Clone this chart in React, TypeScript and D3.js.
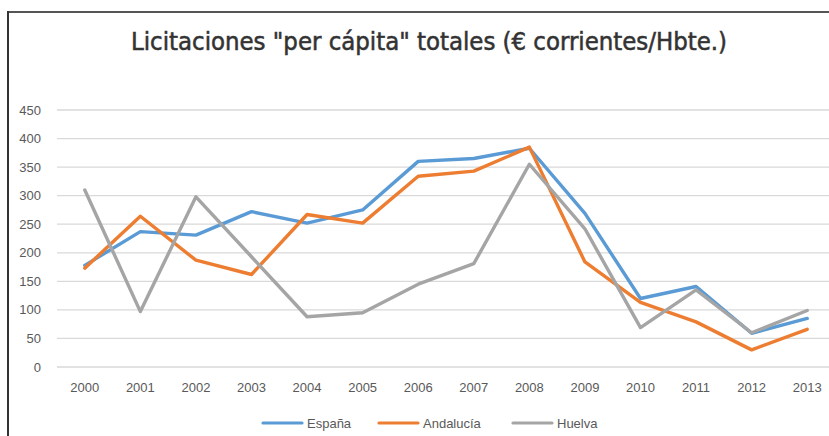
import React from "react";
import * as d3 from "d3";

const years = ["2000","2001","2002","2003","2004","2005","2006","2007","2008","2009","2010","2011","2012","2013"];
const espana = [178, 237, 231, 272, 252, 275, 360, 365, 383, 269, 120, 141, 59, 85];
const andalucia = [173, 264, 187, 162, 267, 252, 334, 343, 385, 184, 113, 79, 30, 66];
const huelva = [310, 97, 298, 193, 88, 95, 145, 181, 355, 242, 69, 135, 60, 99];
const yTicks = [0, 50, 100, 150, 200, 250, 300, 350, 400, 450];
const seriesNames = ["España", "Andalucía", "Huelva"];
const colors = ["#5B9BD5", "#ED7D31", "#A5A5A5"];
const title = 'Licitaciones "per cápita" totales (€ corrientes/Hbte.)';

const W = 829, H = 436;
const plotLeft = 57, plotRight = 835, plotTop = 110, plotBottom = 367;

export default function App() {
  const x = d3.scalePoint<string>().domain(years).range([plotLeft, plotRight]).padding(0.5);
  const y = d3.scaleLinear().domain([0, 450]).range([plotBottom, plotTop]);
  const line = d3.line<number>().x((_, i) => x(years[i]) as number).y(d => y(d));
  const all = [espana, andalucia, huelva];
  const legendItems = [
    { lx: 263, tx: 307 },
    { lx: 379, tx: 423 },
    { lx: 513, tx: 557 },
  ];
  const font = "'Liberation Sans', Arial, sans-serif";
  const titleFont = "'DejaVu Sans Condensed', 'DejaVu Sans', sans-serif";
  return (
    <svg width={W} height={H} style={{ position: "absolute", left: 0, top: 0, background: "#fff" }}>
      <rect x={0} y={0} width={W} height={H} fill="#fff" />
      <line x1={8} x2={W} y1={12} y2={12} stroke="#555" strokeWidth={2} />
      <line x1={8} x2={8} y1={11} y2={H} stroke="#333" strokeWidth={2} />
      <text x={131} y={50} fontFamily={titleFont} fontSize={24} fill="#333" stroke="#333" strokeWidth={0.5}
        textLength={596} lengthAdjust="spacingAndGlyphs">{title}</text>
      {yTicks.map(t => (
        <g key={t}>
          <line x1={plotLeft} x2={plotRight} y1={y(t)} y2={y(t)} stroke="#D9D9D9" strokeWidth={1.3} />
          <text x={41} y={y(t) + 4.5} textAnchor="end" fontFamily={font} fontSize={13} fill="#595959">{t}</text>
        </g>
      ))}
      {years.map(yr => (
        <text key={yr} x={x(yr)} y={392} textAnchor="middle" fontFamily={font} fontSize={13} fill="#595959">{yr}</text>
      ))}
      {all.map((s, i) => (
        <path key={i} d={line(s) || ""} fill="none" stroke={colors[i]} strokeWidth={3.4} strokeLinejoin="round" strokeLinecap="round" />
      ))}
      {seriesNames.map((n, i) => (
        <g key={n}>
          <line x1={legendItems[i].lx} x2={legendItems[i].lx + 39} y1={423} y2={423} stroke={colors[i]} strokeWidth={3.2} strokeLinecap="round" />
          <text x={legendItems[i].tx} y={427.5} fontFamily={font} fontSize={13} fill="#595959">{n}</text>
        </g>
      ))}
    </svg>
  );
}
